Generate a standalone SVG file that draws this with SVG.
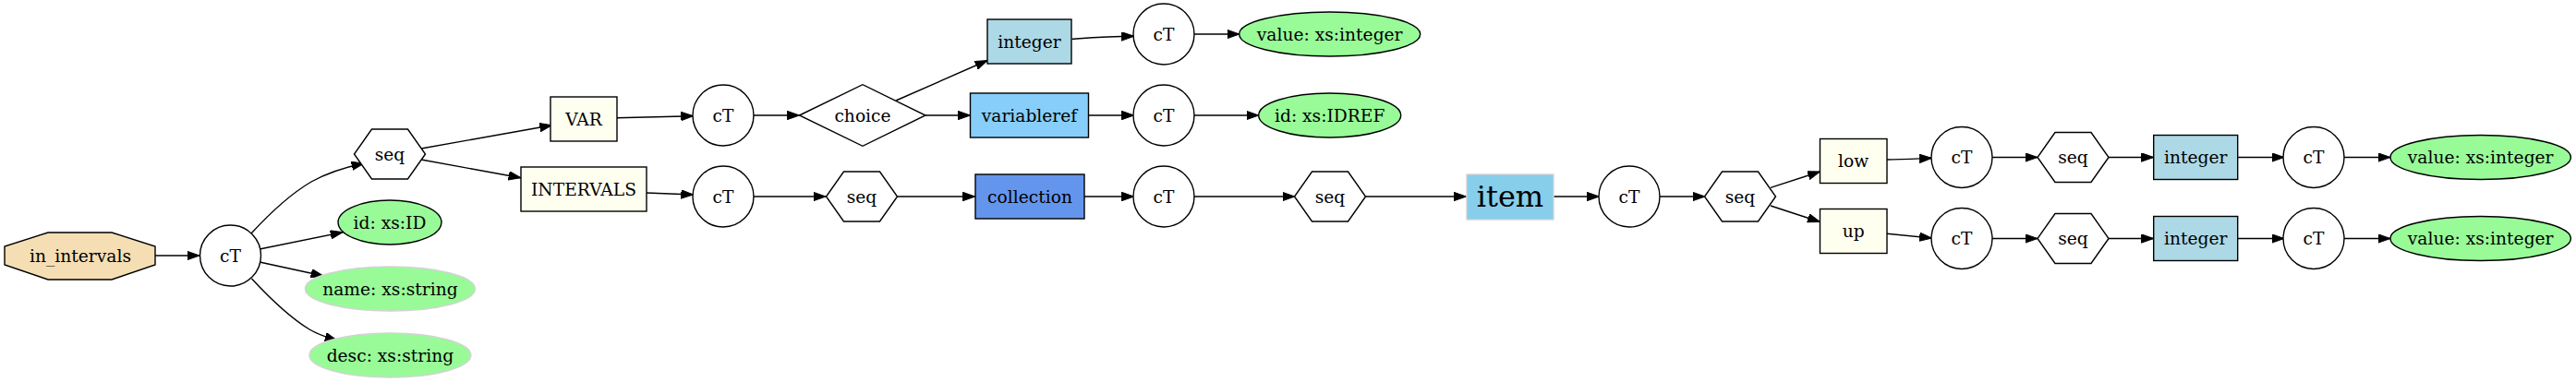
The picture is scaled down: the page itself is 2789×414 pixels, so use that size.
<svg xmlns="http://www.w3.org/2000/svg" width="2789" height="414" viewBox="0 0 2789 414">
<defs>
<marker id="arr" markerWidth="14" markerHeight="10" refX="13.3" refY="4.7" orient="auto" markerUnits="userSpaceOnUse">
<polygon points="0,0 13.3,4.7 0,9.4" fill="#000" stroke="#000" stroke-width="1"/>
</marker>
</defs>
<style>
text{font-family:"DejaVu Serif","Liberation Serif",serif;font-size:18.67px;text-anchor:middle;fill:#000}
.n{stroke:#000;stroke-width:1.4}
.w{fill:#fff}
.iv{fill:#fffff0}
.lb{fill:#add8e6}
.lsb{fill:#87cefa}
.cb{fill:#6495ed}
.gr{fill:#98fb98}
.gl{fill:#98fb98;stroke:#d3d3d3;stroke-width:1.4}
.e{fill:none;stroke:#000;stroke-width:1.4;marker-end:url(#arr)}
</style>
<rect width="2789" height="414" fill="#fff"/>
<g id="edges">
<path class="e" d="M168,277 L216,277"/>
<path class="e" d="M272,253 C295,228 315,210 337,197 C355,187 375,181 394,177"/>
<path class="e" d="M281,270 L371,251.7"/>
<path class="e" d="M281,284 L350,299"/>
<path class="e" d="M272.5,302 C292,323 312,343 335,357 C345,363 355,366 365,369"/>
<path class="e" d="M456,161 L597.6,135.7"/>
<path class="e" d="M456,173 L564,192.7"/>
<path class="e" d="M668,127.7 L750.7,125.7"/>
<path class="e" d="M700,209 L750.7,211"/>
<path class="e" d="M815,125 L865.5,125"/>
<path class="e" d="M815,213 L894,213"/>
<path class="e" d="M970,109 L1069,65.5"/>
<path class="e" d="M1002,125 L1050.5,125"/>
<path class="e" d="M971.5,213 L1055.7,213"/>
<path class="e" d="M1160.7,42.3 C1180,41 1200,39.5 1227.7,39.3"/>
<path class="e" d="M1178.7,125 L1227.7,125"/>
<path class="e" d="M1173.7,213 L1227.7,213"/>
<path class="e" d="M1292,37 L1342,37"/>
<path class="e" d="M1292,125 L1362.8,125"/>
<path class="e" d="M1292,213 L1401.8,213"/>
<path class="e" d="M1478.4,213 L1587.4,213"/>
<path class="e" d="M1682,213 L1731.4,213"/>
<path class="e" d="M1796.4,213 L1846,213"/>
<path class="e" d="M1917,203.3 L1970.5,186"/>
<path class="e" d="M1917,223 L1970.5,240.5"/>
<path class="e" d="M2043,173 C2060,173 2075,172 2091.5,171.3"/>
<path class="e" d="M2043,253.3 L2091.5,258"/>
<path class="e" d="M2156,170.5 L2206,170.5"/>
<path class="e" d="M2156,258.5 L2206,258.5"/>
<path class="e" d="M2282.8,170.5 L2331.7,170.5"/>
<path class="e" d="M2282.8,258.5 L2331.7,258.5"/>
<path class="e" d="M2422.8,170.5 L2473,170.5"/>
<path class="e" d="M2422.8,258.5 L2473,258.5"/>
<path class="e" d="M2537.3,170.5 L2588,170.5"/>
<path class="e" d="M2537.3,258.5 L2588,258.5"/>
</g>
<g id="in_intervals"><polygon class="n" fill="#f5deb3" points="52,252 121,252 168,267 168,287 121,303 52,303 5,287 5,267"/><text x="87" y="283.5">in_intervals</text></g>
<g id="cT1"><circle class="n w" cx="249.5" cy="277" r="33"/><text x="249.5" y="283.5">cT</text></g>
<g id="seq1"><polygon class="n w" points="460.5,167 441.5,194 402.5,194 383.5,167 402.5,140 441.5,140"/><text x="422" y="173.5">seq</text></g>
<g id="attr_id"><ellipse class="n gr" cx="422" cy="241" rx="56" ry="24"/><text x="422" y="247.5">id: xs:ID</text></g>
<g id="attr_name"><ellipse class="gl" cx="422.4" cy="313" rx="92" ry="24"/><text x="422.4" y="319.5">name: xs:string</text></g>
<g id="attr_desc"><ellipse class="gl" cx="422.4" cy="385" rx="87.5" ry="24"/><text x="422.4" y="391.5">desc: xs:string</text></g>
<g id="VAR"><rect class="n iv" x="596" y="105" width="72" height="48"/><text x="632" y="135.5">VAR</text></g>
<g id="INTERVALS"><rect class="n iv" x="564" y="181" width="136" height="48"/><text x="632" y="211.5">INTERVALS</text></g>
<g id="cT2"><circle class="n w" cx="783" cy="125" r="33"/><text x="783" y="131.5">cT</text></g>
<g id="cT3"><circle class="n w" cx="783" cy="213" r="33"/><text x="783" y="219.5">cT</text></g>
<g id="choice"><polygon class="n w" points="865.5,125 934,91.7 1002,125 934,158.3"/><text x="934" y="131.5">choice</text></g>
<g id="seq2"><polygon class="n w" points="971.5,213 952.5,240 913.5,240 894.5,213 913.5,186 952.5,186"/><text x="933" y="219.5">seq</text></g>
<g id="integer1"><rect class="n lb" x="1069" y="21" width="91" height="48"/><text x="1114.5" y="51.5">integer</text></g>
<g id="variableref"><rect class="n lsb" x="1050.5" y="101" width="128" height="48"/><text x="1114.5" y="131.5">variableref</text></g>
<g id="collection"><rect class="n cb" x="1056" y="189" width="118" height="48"/><text x="1115" y="219.5">collection</text></g>
<g id="cT4"><circle class="n w" cx="1260" cy="37" r="33"/><text x="1260" y="43.5">cT</text></g>
<g id="cT5"><circle class="n w" cx="1260" cy="125" r="33"/><text x="1260" y="131.5">cT</text></g>
<g id="cT6"><circle class="n w" cx="1260" cy="213" r="33"/><text x="1260" y="219.5">cT</text></g>
<g id="attr_value1"><ellipse class="n gr" cx="1439.7" cy="37" rx="98" ry="24"/><text x="1439.7" y="43.5">value: xs:integer</text></g>
<g id="attr_idref"><ellipse class="n gr" cx="1439.7" cy="125" rx="77" ry="24"/><text x="1439.7" y="131.5">id: xs:IDREF</text></g>
<g id="seq3"><polygon class="n w" points="1478.5,213 1459.5,240 1420.5,240 1401.5,213 1420.5,186 1459.5,186"/><text x="1440" y="219.5">seq</text></g>
<g id="item"><rect fill="#87ceeb" stroke="#d3d3d3" stroke-width="1.4" x="1588" y="189" width="94" height="49"/><text x="1635" y="224" style="font-size:32px">item</text></g>
<g id="cT7"><circle class="n w" cx="1764" cy="213" r="33"/><text x="1764" y="219.5">cT</text></g>
<g id="seq4"><polygon class="n w" points="1922.5,213 1903.5,240 1864.5,240 1845.5,213 1864.5,186 1903.5,186"/><text x="1884" y="219.5">seq</text></g>
<g id="low"><rect class="n iv" x="1970.5" y="150.5" width="72.5" height="48"/><text x="2006.7" y="181">low</text></g>
<g id="up"><rect class="n iv" x="1970.5" y="226.5" width="72.5" height="48"/><text x="2006.7" y="257">up</text></g>
<g id="cT8"><circle class="n w" cx="2124" cy="170.5" r="33"/><text x="2124" y="177">cT</text></g>
<g id="cT9"><circle class="n w" cx="2124" cy="258.5" r="33"/><text x="2124" y="265">cT</text></g>
<g id="seq5"><polygon class="n w" points="2283,170.5 2264,197.5 2225,197.5 2206,170.5 2225,143.5 2264,143.5"/><text x="2244.5" y="177">seq</text></g>
<g id="seq6"><polygon class="n w" points="2283,258.5 2264,285.5 2225,285.5 2206,258.5 2225,231.5 2264,231.5"/><text x="2244.5" y="265">seq</text></g>
<g id="integer2"><rect class="n lb" x="2331.7" y="146.5" width="91" height="48"/><text x="2377.2" y="177">integer</text></g>
<g id="integer3"><rect class="n lb" x="2331.7" y="234.5" width="91" height="48"/><text x="2377.2" y="265">integer</text></g>
<g id="cT10"><circle class="n w" cx="2505" cy="170.5" r="33"/><text x="2505" y="177">cT</text></g>
<g id="cT11"><circle class="n w" cx="2505" cy="258.5" r="33"/><text x="2505" y="265">cT</text></g>
<g id="attr_value2"><ellipse class="n gr" cx="2685.7" cy="170.5" rx="97.7" ry="24"/><text x="2685.7" y="177">value: xs:integer</text></g>
<g id="attr_value3"><ellipse class="n gr" cx="2685.7" cy="258.5" rx="97.7" ry="24"/><text x="2685.7" y="265">value: xs:integer</text></g>
</svg>
